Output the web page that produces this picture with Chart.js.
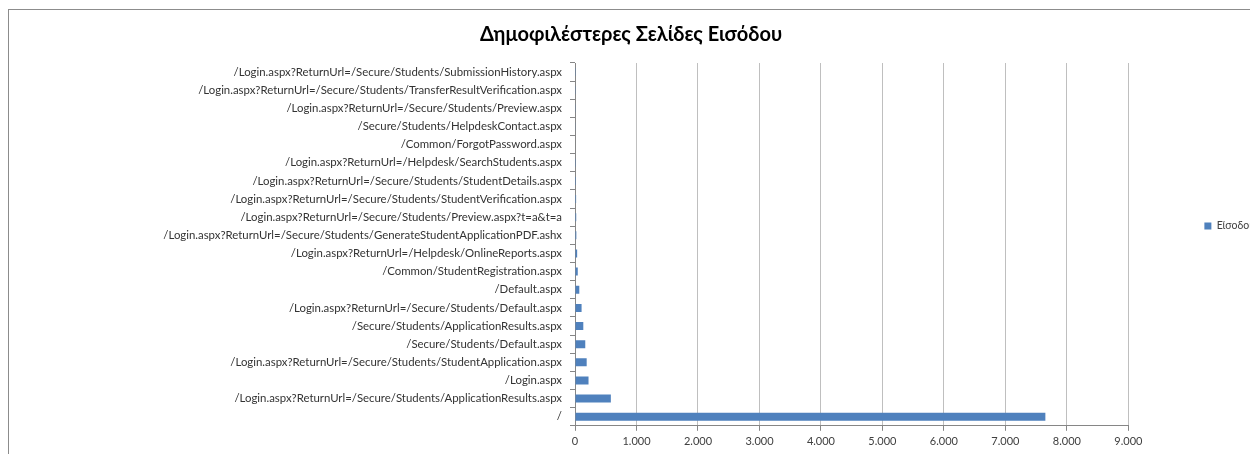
<!DOCTYPE html>
<html>
<head>
<meta charset="utf-8">
<title>Δημοφιλέστερες Σελίδες Εισόδου</title>
<script src="https://cdn.jsdelivr.net/npm/chart.js@4"></script>
<style>
  html, body { margin: 0; padding: 0; background: #fff; overflow: hidden; }
  #frame {
    position: absolute; left: 8px; top: 9px; width: 1260px; height: 460px;
    border-top: 1px solid #8c8c8c; border-left: 1px solid #8c8c8c;
  }
  #wrap { position: absolute; left: 0; top: 0; width: 1262px; height: 454px; }
</style>
</head>
<body>
<div id="frame"></div>
<div id="wrap"><canvas id="entryChart"></canvas></div>
<script>
// Entry pages, top to bottom as in the chart
const pages = [
  '/Login.aspx?ReturnUrl=/Secure/Students/SubmissionHistory.aspx',
  '/Login.aspx?ReturnUrl=/Secure/Students/TransferResultVerification.aspx',
  '/Login.aspx?ReturnUrl=/Secure/Students/Preview.aspx',
  '/Secure/Students/HelpdeskContact.aspx',
  '/Common/ForgotPassword.aspx',
  '/Login.aspx?ReturnUrl=/Helpdesk/SearchStudents.aspx',
  '/Login.aspx?ReturnUrl=/Secure/Students/StudentDetails.aspx',
  '/Login.aspx?ReturnUrl=/Secure/Students/StudentVerification.aspx',
  '/Login.aspx?ReturnUrl=/Secure/Students/Preview.aspx?t=a&t=a',
  '/Login.aspx?ReturnUrl=/Secure/Students/GenerateStudentApplicationPDF.ashx',
  '/Login.aspx?ReturnUrl=/Helpdesk/OnlineReports.aspx',
  '/Common/StudentRegistration.aspx',
  '/Default.aspx',
  '/Login.aspx?ReturnUrl=/Secure/Students/Default.aspx',
  '/Secure/Students/ApplicationResults.aspx',
  '/Secure/Students/Default.aspx',
  '/Login.aspx?ReturnUrl=/Secure/Students/StudentApplication.aspx',
  '/Login.aspx',
  '/Login.aspx?ReturnUrl=/Secure/Students/ApplicationResults.aspx',
  '/'
];

// Entries per page
const entries = [3, 4, 5, 6, 8, 14, 16, 18, 20, 22, 35, 45, 70, 107, 135, 167, 190, 220, 583, 7650];

const xMin = 0;
const xMax = 9000;
const xStep = 1000;

const seriesName = 'Είσοδοι';
const chartTitle = 'Δημοφιλέστερες Σελίδες Εισόδου';

// gap kept free between the plot and the legend
const legendGap = 68;

function fmt(v) {
    // thousands separator as a dot
    return String(v).replace(/\B(?=(\d{3})+(?!\d))/g, '.');
}

// widen the legend box, but draw its item at the right edge
const legendShift = {
    id: 'legendShift',
    beforeUpdate(chart) {
        const lg = chart.legend;
        if (!lg || lg._shifted) return;
        const fit = lg.fit;
        lg.fit = function () {
            fit.apply(this, arguments);
            this.width += legendGap;
        };
        const draw = lg.draw;
        lg.draw = function () {
            const c = this.ctx;
            c.save();
            c.translate(legendGap, 0);
            draw.apply(this, arguments);
            c.restore();
        };
        lg._shifted = true;
    }
};

const ctx = document.getElementById('entryChart');
new Chart(ctx, {
    type: 'bar',
    data: {
        labels: pages,
        datasets: [{
            label: seriesName,
            data: entries,
            backgroundColor: '#4f81bd',
            borderWidth: 0,
            barPercentage: 0.44,
            categoryPercentage: 1.0
        }]
    },
    options: {
        indexAxis: 'y',
        responsive: true,
        maintainAspectRatio: false,
        animation: false,
        layout: { padding: { left: 0, right: 0, top: 0, bottom: 2 } },
        plugins: {
            title: {
                display: true,
                text: chartTitle,
                color: '#000',
                font: { family: 'Lato', size: 20, weight: 'bold' },
                padding: { top: 23, bottom: 16 }
            },
            legend: {
                position: 'right',
                labels: {
                    boxWidth: 7, boxHeight: 7,
                    color: '#404040',
                    font: { family: 'Lato', size: 10.5 },
                    padding: 8
                }
            },
            tooltip: { enabled: false }
        },
        scales: {
            x: {
                min: xMin, max: xMax,
                ticks: {
                    stepSize: xStep,
                    color: '#404040',
                    font: { family: 'Lato', size: 11 },
                    callback: v => fmt(v),
                    padding: 4
                },
                grid: { color: '#bfbfbf', tickLength: 5, tickColor: '#868686' },
                border: { color: '#868686' }
            },
            y: {
                afterFit: s => { s.width = 575; },
                ticks: {
                    color: '#333333',
                    font: { family: 'Lato', size: 11.4 },
                    autoSkip: false,
                    padding: 8
                },
                grid: { drawOnChartArea: false, offset: true, tickLength: 5, color: '#868686' },
                border: { color: '#868686' }
            }
        }
    },
    plugins: [legendShift]
});
</script>
</body>
</html>
